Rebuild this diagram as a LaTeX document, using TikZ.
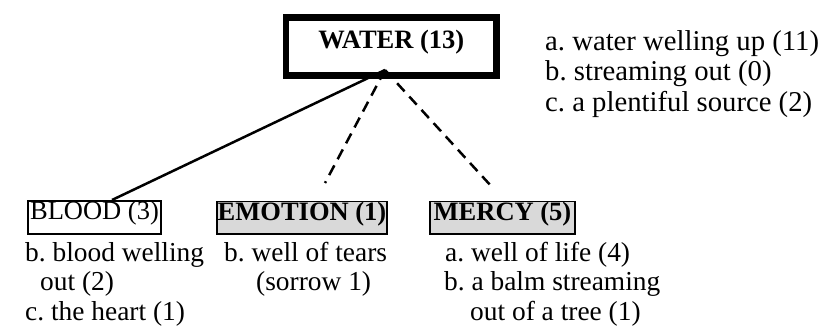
\documentclass[tikz,border=0pt]{standalone}
\usepackage{fontspec}
\setmainfont{Liberation Serif}
\usetikzlibrary{calc}
\frenchspacing
\newcommand{\fsz}{\fontsize{26.5pt}{29pt}\selectfont}
\newcommand{\fsl}{\fontsize{27.4pt}{29.5pt}\selectfont}
\newcommand{\fst}{\fontsize{28.7pt}{30pt}\selectfont}
\tikzset{
  lbl/.style={anchor=base west, inner sep=0pt, font=\fsl},
  toplbl/.style={lbl, font=\fst},
  catbox/.style={draw, line width=1.8pt, inner sep=0pt, font=\fsz, text height=0.68em, text depth=0.2em},
  hotbox/.style={catbox, fill=black!15, font=\fsz\bfseries},
  link/.style={line width=2.5pt},
  dlink/.style={line width=2.5pt, dash pattern=on 11pt off 7pt},
}
\begin{document}
\begin{tikzpicture}[x=1pt,y=-1pt]
\useasboundingbox (0,0) rectangle (828,329);
% top node
\node[draw, line width=6.5pt, minimum width=210.7pt, minimum height=58.4pt, inner sep=0pt,
      font=\fsz\bfseries, text height=0.68em, text depth=0.2em] (water) at (391.3,46.5) {WATER (13)};
\coordinate (apex) at (385,70);
% top list
\node[toplbl] (wa) at (545,51) {a. water welling up (11)};
\node[toplbl] (wb) at (545,81) {b. streaming out (0)};
\node[toplbl] (wc) at (545,111) {c. a plentiful source (2)};
% category boxes
\node[catbox, minimum width=133.2pt, minimum height=33.2pt] (blood) at (94.5,217.5) {BLOOD (3)};
\node[hotbox, minimum width=170.2pt, minimum height=32.5pt] (emotion) at (302,217.8) {EMOTION (1)};
\node[hotbox, minimum width=145.2pt, minimum height=32.5pt] (mercy) at (502.5,217.8) {MERCY (5)};
% sub lists
\node[lbl] (bb) at (25,261) {b. blood welling};
\node[lbl] (bb2) at (40,290.5) {out (2)};
\node[lbl] (bc) at (25,320) {c. the heart (1)};
\node[lbl] (eb) at (224,261) {b. well of tears};
\node[lbl] (eb2) at (256,290.5) {(sorrow 1)};
\node[lbl] (ma) at (445,261) {a. well of life (4)};
\node[lbl] (mb) at (444,290.5) {b. a balm streaming};
\node[lbl] (mb2) at (470,320) {out of a tree (1)};
% connectors
\coordinate (e1) at (325,183);
\coordinate (e2) at (492,187);
\draw[link] (apex) -- ($(blood.north)+(17.5,0)$);
\draw[dlink] (apex) -- (e1);
\draw[dlink] (apex) -- (e2);
\end{tikzpicture}
\end{document}
